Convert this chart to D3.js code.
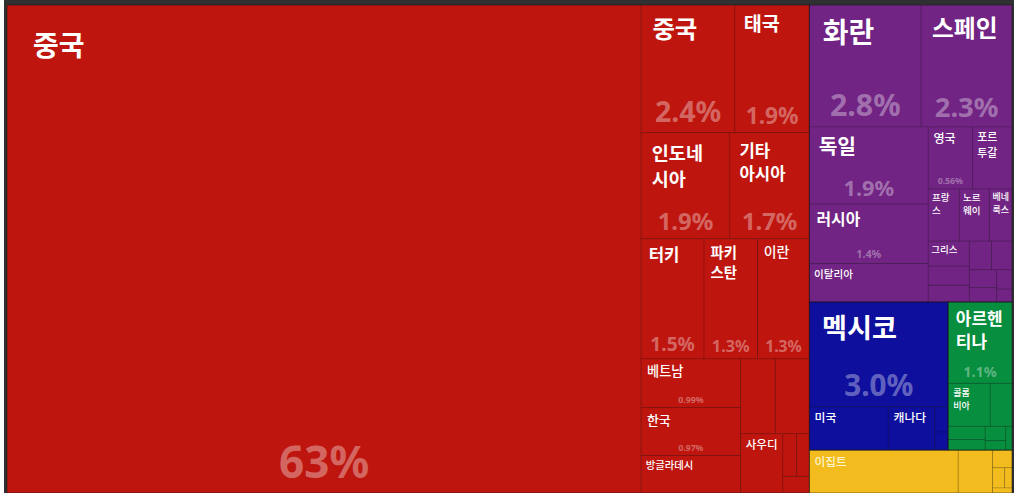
<!DOCTYPE html>
<html>
<head>
<meta charset="utf-8">
<script src="https://cdn.jsdelivr.net/npm/d3@7"></script>
<style>
  html, body { margin: 0; padding: 0; background: #fff; overflow: hidden; }
</style>
</head>
<body>
<svg id="chart" width="1014" height="493"></svg>
<script>
// regions (top level of the treemap)
const regionNames = ["아시아", "유럽", "북아메리카", "남아메리카", "아프리카"];
const regionColors = ["#be160f", "#712483", "#0e0f9c", "#078e3e", "#f2bb1e"];

// countries and shares (%) per region, "" = unlabelled small cell
const asiaNames = ["중국", "중국", "태국", "인도네시아", "기타 아시아", "터키", "파키스탄", "이란",
    "베트남", "한국", "방글라데시", "", "", "사우디", "", "", ""];
const asiaValues = [63.1, 2.44, 1.94, 1.92, 1.72, 1.54, 1.31, 1.27,
    0.99, 0.97, 0.76, 0.53, 0.52, 0.51, 0.12, 0.11, 0.09];

const europeNames = ["화란", "스페인", "독일", "러시아", "이탈리아", "영국", "포르투갈", "프랑스",
    "노르웨이", "베네룩스", "그리스", "", "", "", "", "", "", "", ""];
const europeValues = [2.78, 2.26, 1.87, 1.44, 0.93, 0.56, 0.50, 0.33,
    0.32, 0.24, 0.21, 0.16, 0.14, 0.13, 0.12, 0.10, 0.08, 0.06, 0.04];

const northAmNames = ["멕시코", "미국", "캐나다", "", ""];
const northAmValues = [2.96, 0.70, 0.41, 0.07, 0.05];

const southAmNames = ["아르헨티나", "콜롬비아", "", "", "", "", "", ""];
const southAmValues = [1.06, 0.37, 0.19, 0.10, 0.08, 0.06, 0.04, 0.03];

const africaNames = ["이집트", "", "", "", "", ""];
const africaValues = [1.30, 0.30, 0.07, 0.05, 0.03, 0.02];

const regionNamesList = [asiaNames, europeNames, northAmNames, southAmNames, africaNames];
const regionValuesList = [asiaValues, europeValues, northAmValues, southAmValues, africaValues];

const width = 1014, height = 493;
const margin = {top: 5, left: 7, right: 2, bottom: 0};
const innerW = width - margin.left - margin.right;
const innerH = height - margin.top - margin.bottom;

const labelFont = "'Noto Sans CJK KR', 'Noto Sans', sans-serif";
const pctFont = "'Noto Sans', 'DejaVu Sans', sans-serif";

const data = {
    name: "root",
    children: regionNames.map((r, i) => ({
        name: r,
        color: regionColors[i],
        children: regionNamesList[i].map((n, j) => ({name: n, value: regionValuesList[i][j]}))
    }))
};

const root = d3.hierarchy(data)
    .sum(d => d.value || 0)
    .sort((a, b) => b.value - a.value);

// squarify that tries the row along both sides and keeps the better one
function bestSquarify(ratio) {
    return function(parent, x0, y0, x1, y1) {
        const nodes = parent.children;
        let value = parent.value, i0 = 0;
        while (i0 < nodes.length) {
            const dx = x1 - x0, dy = y1 - y0;
            const options = [true, false].map(horiz => {
                const L = horiz ? dx : dy, M = horiz ? dy : dx;
                const alpha = (M / L) / (value * ratio);
                let i1 = i0, sum = nodes[i1++].value, mn = sum, mx = sum;
                let best = Math.max(mx / (sum * sum * alpha), sum * sum * alpha / mn);
                for (; i1 < nodes.length; i1++) {
                    const v = nodes[i1].value;
                    const s2 = sum + v, beta = s2 * s2 * alpha;
                    const r = Math.max(Math.max(mx, v) / beta, beta / Math.min(mn, v));
                    if (r > best) break;
                    sum = s2; mn = Math.min(mn, v); mx = Math.max(mx, v); best = r;
                }
                return {horiz, i1, sum, best};
            });
            const pick = options[0].best <= options[1].best ? options[0] : options[1];
            const row = {children: nodes.slice(i0, pick.i1), value: pick.sum};
            if (pick.horiz) {
                const yy = value ? y0 + dy * pick.sum / value : y1;
                d3.treemapDice(row, x0, y0, x1, yy);
                y0 = yy;
            } else {
                const xx = value ? x0 + dx * pick.sum / value : x1;
                d3.treemapSlice(row, x0, y0, xx, y1);
                x0 = xx;
            }
            value -= pick.sum;
            i0 = pick.i1;
        }
    };
}

const rootTile = bestSquarify(1.618);
const groupTile = d3.treemapSquarify.ratio(1.78);

d3.treemap()
    .size([innerW, innerH])
    .tile((node, x0, y0, x1, y1) => node.depth === 0
        ? rootTile(node, x0, y0, x1, y1)
        : groupTile(node, x0, y0, x1, y1))(root);

const svg = d3.select("#chart");

// dark frame behind the treemap
svg.append("rect")
    .attr("x", 4).attr("y", 0)
    .attr("width", width - 4).attr("height", height)
    .attr("fill", "#2f3032");

const g = svg.append("g").attr("transform", `translate(${margin.left},${margin.top})`);

const leaves = root.leaves();

g.selectAll("rect.cell")
    .data(leaves)
    .join("rect")
    .attr("class", "cell")
    .attr("x", d => d.x0)
    .attr("y", d => d.y0)
    .attr("width", d => d.x1 - d.x0)
    .attr("height", d => d.y1 - d.y0)
    .attr("fill", d => d.parent.data.color)
    .attr("stroke", "rgba(0,0,0,0.13)")
    .attr("stroke-width", 1);

g.selectAll("rect.grp")
    .data(root.children)
    .join("rect")
    .attr("class", "grp")
    .attr("x", d => d.x0)
    .attr("y", d => d.y0)
    .attr("width", d => d.x1 - d.x0)
    .attr("height", d => d.y1 - d.y0)
    .attr("fill", "none")
    .attr("stroke", "rgba(25,25,25,0.4)")
    .attr("stroke-width", 1);

// text measuring helper
const meas = svg.append("text").attr("visibility", "hidden").attr("font-family", labelFont);
function textWidth(str, size, weight) {
    meas.attr("font-size", size).attr("font-weight", weight).text(str);
    return meas.node().getComputedTextLength();
}

// split a long word into balanced chunks of characters
function splitWord(word, size, weight, maxW) {
    const chars = Array.from(word);
    let n = Math.max(2, Math.ceil(textWidth(word, size, weight) / maxW));
    while (n < chars.length) {
        const per = Math.ceil(chars.length / n);
        const parts = [];
        for (let i = 0; i < chars.length; i += per) parts.push(chars.slice(i, i + per).join(""));
        if (parts.every(p => textWidth(p, size, weight) <= maxW)) return parts;
        n++;
    }
    return chars;
}

function wrapText(name, size, weight, maxW) {
    const lines = [];
    name.split(" ").forEach(word => {
        const last = lines.length ? lines[lines.length - 1] : null;
        if (last !== null && textWidth(last + " " + word, size, weight) <= maxW) {
            lines[lines.length - 1] = last + " " + word;
        } else if (textWidth(word, size, weight) <= maxW) {
            lines.push(word);
        } else {
            splitWord(word, size, weight, maxW).forEach(p => lines.push(p));
        }
    });
    return lines;
}

const fmtPct = v => (v >= 10 ? d3.format(".0f")(v) : v >= 1 ? d3.format(".1f")(v) : d3.format(".2f")(v)) + "%";

const labels = g.append("g");
const lineGap = 1.4;

leaves.forEach(d => {
    const w = d.x1 - d.x0, h = d.y1 - d.y0;
    if (!d.data.name || w < 20 || h < 20) return;
    const pad = Math.max(3, Math.min(26, 0.12 * Math.min(w, h)));
    let size = Math.max(9.5, Math.min(28, 0.25 * Math.min(w, h) + 1));
    let lines, weight, shrunk = false;
    while (true) {
        weight = size >= 14 ? 700 : 500;
        lines = wrapText(d.data.name, size, weight, w - 2 * pad);
        // wrapped big labels get a smaller type
        if (lines.length > 1 && size > 18 && !shrunk) { size *= 0.8; shrunk = true; continue; }
        const tooWide = lines.some(l => textWidth(l, size, weight) > w - 2 * pad + 1);
        if ((!tooWide && lines.length * size * lineGap <= 0.62 * h) || size <= 8) break;
        size -= 0.5;
    }
    const lineH = size * lineGap;
    const light = d.parent.data.name === regionNames[4];
    const txt = labels.append("text")
        .attr("font-family", labelFont)
        .attr("font-size", size)
        .attr("font-weight", weight)
        .attr("fill", light ? "#fff4cc" : "#ffffff");
    lines.forEach((l, i) => {
        txt.append("tspan")
            .attr("x", d.x0 + pad)
            .attr("y", d.y0 + pad + 0.88 * size + i * lineH)
            .text(l);
    });

    // share, centred near the bottom of the cell
    const blockBottom = pad + lines.length * lineH;
    let ps = Math.min(44, 0.26 * Math.sqrt(w * h), (w - 2 * pad) / 2.5, (h - blockBottom) * 0.55);
    if (h < 70) ps *= 0.65;
    if (h < 46 || w < 43 || ps < 6.5) return;
    labels.append("text")
        .attr("x", (d.x0 + d.x1) / 2)
        .attr("y", d.y1 - Math.min(0.3 * ps + 2, 0.22 * h))
        .attr("text-anchor", "middle")
        .attr("font-family", pctFont)
        .attr("font-weight", 700)
        .attr("font-size", ps)
        .attr("fill", "#ffffff")
        .attr("fill-opacity", 0.36)
        .text(fmtPct(d.value));
});
</script>
</body>
</html>
